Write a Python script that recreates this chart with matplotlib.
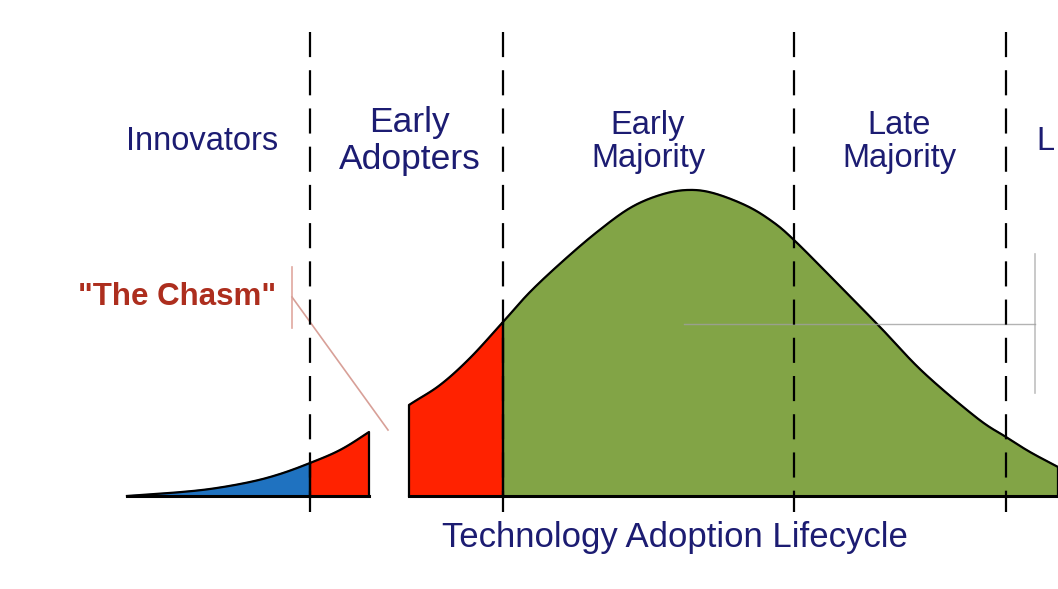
import matplotlib
matplotlib.use("Agg")
import matplotlib.pyplot as plt
import numpy as np

# ---- data (in pixel-like units; y grows downward) ----
curve_x = [127, 170, 210, 250, 280, 310, 340, 369, 409, 440, 470, 503, 530, 563, 597,
           630, 660, 687, 713, 747, 773, 794, 830, 880, 923, 977, 1006, 1030, 1058]
curve_y = [496, 493, 489, 482, 474, 463, 450, 432, 405, 385, 358, 322, 292, 261, 232,
           208, 195, 190, 193, 206, 222, 240, 276, 327, 372, 418, 437, 452, 467]
baseline_y = 496
segments = [  # (x_start, x_end, colour)
    (127, 310, "#1f72c0"),
    (310, 369, "#ff2200"),
    (409, 503, "#ff2200"),
    (503, 1058, "#82a446"),
]
dividers = [310, 503, 794, 1006]
group_labels = ["Innovators", "Early\nAdopters", "Early\nMajority", "Late\nMajority", "L"]
label_x = [202, 410, 648, 899, 1045]
label_y = [142, 141, 142, 142, 142]
label_size = [23.5, 25.5, 23.5, 23.5, 23.5]
label_spacing = [1.12, 1.17, 1.12, 1.12, 1.12]
title = "Technology Adoption Lifecycle"
chasm_label = '"The Chasm"'

navy = "#1c1c72"


def catmull_rom(px, py, n=40):
    px = np.asarray(px, float)
    py = np.asarray(py, float)
    P = np.column_stack([px, py])
    P = np.vstack([2 * P[0] - P[1], P, 2 * P[-1] - P[-2]])
    out = []
    for i in range(1, len(P) - 2):
        p0, p1, p2, p3 = P[i - 1], P[i], P[i + 1], P[i + 2]
        t = np.linspace(0, 1, n, endpoint=False)[:, None]
        pt = 0.5 * ((2 * p1) + (-p0 + p2) * t + (2 * p0 - 5 * p1 + 4 * p2 - p3) * t ** 2
                    + (-p0 + 3 * p1 - 3 * p2 + p3) * t ** 3)
        out.append(pt)
    out.append(P[-2][None, :])
    out = np.vstack(out)
    return out[:, 0], out[:, 1]


fig = plt.figure(figsize=(10.58, 5.89), dpi=100)
ax = fig.add_axes([0, 0, 1, 1])
ax.set_xlim(0, 1058)
ax.set_ylim(589, 0)
ax.axis("off")

xs, ys = catmull_rom(curve_x, curve_y)
order = np.argsort(xs)
xs, ys = xs[order], ys[order]

for x0, x1, col in segments:
    m = (xs > x0) & (xs < x1)
    y0 = np.interp(x0, xs, ys)
    y1 = np.interp(x1, xs, ys)
    px = np.concatenate([[x0, x0], xs[m], [x1, x1]])
    py = np.concatenate([[baseline_y, y0], ys[m], [y1, baseline_y]])
    ax.fill(px, py, color=col, zorder=2)
    ax.plot(px, py, color="black", lw=1.6, zorder=3, solid_joinstyle="round")
    ax.plot([x0, x1], [baseline_y, baseline_y], color="black", lw=2.2, zorder=3)

for d in dividers:
    ax.plot([d, d], [32, 512], color="black", lw=1.6, dashes=(11.3, 5.9), zorder=4)

for lab, x, y, fs, ls in zip(group_labels, label_x, label_y, label_size, label_spacing):
    ax.text(x, y, lab, ha="center", va="center", color=navy, fontsize=fs,
            family="Liberation Sans", linespacing=ls, zorder=5)

ax.text(675, 537, title, ha="center", va="center", color=navy, fontsize=25,
        family="Liberation Sans", zorder=5)
ax.text(177, 297, chasm_label, ha="center", va="center", color="#ad2e1e", fontsize=22.5,
        fontweight="bold", family="Liberation Sans", zorder=5)

# pale callout lines
ax.plot([292, 292], [267, 328], color="#e0a8a0", lw=1.2, zorder=1)
ax.plot([292, 388], [297, 430], color="#d8a098", lw=1.2, zorder=1)
ax.plot([684, 1035], [324, 324], color="#a0a0a0", lw=1.0, alpha=0.8, zorder=3.5)
ax.plot([1035, 1035], [254, 393], color="#c0c0c0", lw=1.2, zorder=1)

fig.savefig("out.png", dpi=100)
